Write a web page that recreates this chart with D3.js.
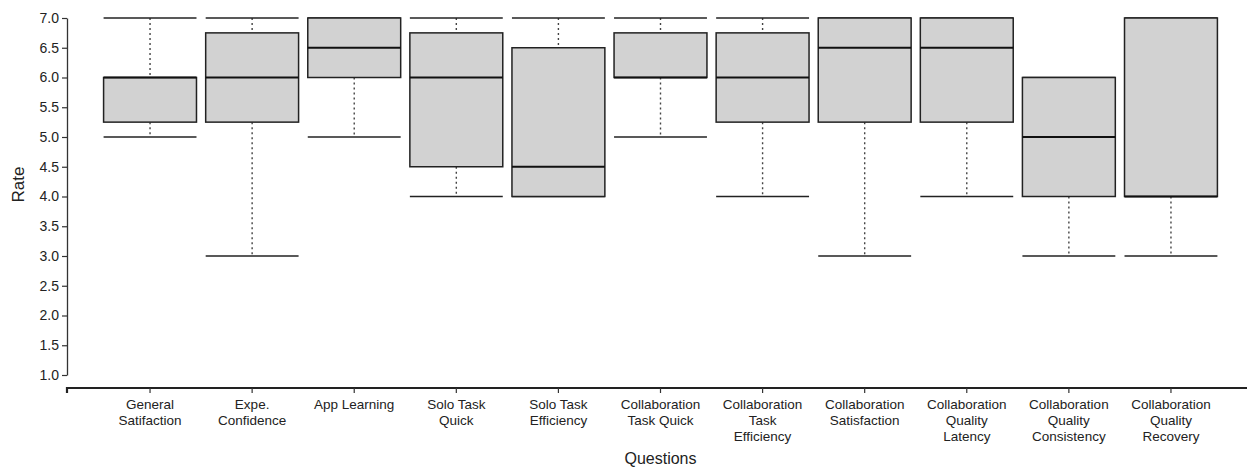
<!DOCTYPE html>
<html>
<head>
<meta charset="utf-8">
<script src="https://cdn.jsdelivr.net/npm/d3@7"></script>
<style>
  body { margin: 0; background: #fff; }
  svg text { font-family: "Liberation Sans", Arial, Helvetica, sans-serif; fill: #222; }
</style>
</head>
<body>
<script>
// questions on the x axis (multi-line labels split on "|")
var questions = [
    'General|Satifaction',
    'Expe.|Confidence',
    'App Learning',
    'Solo Task|Quick',
    'Solo Task|Efficiency',
    'Collaboration|Task Quick',
    'Collaboration|Task|Efficiency',
    'Collaboration|Satisfaction',
    'Collaboration|Quality|Latency',
    'Collaboration|Quality|Consistency',
    'Collaboration|Quality|Recovery'
];
// five number summaries
var whiskerLow  = [5,    3,    5,   4,    4,   5,    4,    3,    4,    3, 3];
var q1          = [5.25, 5.25, 6,   4.5,  4,   6,    5.25, 5.25, 5.25, 4, 4];
var median      = [6,    6,    6.5, 6,    4.5, 6,    6,    6.5,  6.5,  5, 4];
var q3          = [6,    6.75, 7,   6.75, 6.5, 6.75, 6.75, 7,    7,    6, 7];
var whiskerHigh = [7,    7,    7,   7,    7,   7,    7,    7,    7,    6, 7];
var yTicks = d3.range(1, 7.01, 0.5);

var width = 1247, height = 470;
var svg = d3.select('body').append('svg')
    .attr('width', width)
    .attr('height', height);

var data = questions.map(function(q, i){
    return {q: q, lo: whiskerLow[i], q1: q1[i], med: median[i], q3: q3[i], hi: whiskerHigh[i]};
});

var x = d3.scaleBand()
    .domain(questions)
    .range([94.4, 1226.6])
    .padding(0.09);

var y = d3.scaleLinear()
    .domain([1, 7])
    .range([375, 18]);

// y axis
var yAxis = svg.append('g')
    .attr('transform', 'translate(67,0)')
    .call(d3.axisLeft(y).tickValues(yTicks).tickFormat(d3.format('.1f')).tickSize(5).tickSizeOuter(0));
yAxis.select('.domain').attr('stroke', '#333').attr('stroke-width', 1.3);
yAxis.selectAll('.tick line').attr('stroke', '#333').attr('stroke-width', 1.2);
yAxis.selectAll('.tick text')
    .attr('x', -8)
    .style('font-size', '14px')
    .style('font-family', '"Liberation Sans", Arial, sans-serif')
    .attr('fill', '#333');

// x axis
var xAxisY = 388;
var xAxis = svg.append('g')
    .attr('transform', 'translate(0,' + xAxisY + ')')
    .call(d3.axisBottom(x).tickSize(5).tickSizeOuter(0).tickFormat(''));
xAxis.select('.domain')
    .attr('d', 'M67,5V0H' + width)
    .attr('stroke', '#222')
    .attr('stroke-width', 2.2);
xAxis.selectAll('.tick line').attr('stroke', '#333').attr('stroke-width', 1.2);

xAxis.selectAll('.tick').each(function(d){
    var lines = d.split('|');
    var t = d3.select(this).append('text')
        .attr('text-anchor', 'middle')
        .attr('y', 21)
        .style('font-size', '13.5px')
        .attr('fill', '#222');
    lines.forEach(function(line, k){
        t.append('tspan').attr('x', 0).attr('dy', k == 0 ? 0 : 16).text(line);
    });
});

// boxes
var box = svg.selectAll('.box')
    .data(data)
    .enter()
    .append('g')
    .attr('class', 'box')
    .attr('transform', function(d){ return 'translate(' + x(d.q) + ',0)'; });

var bw = x.bandwidth();

// dotted whiskers
box.append('line')
    .attr('x1', bw / 2).attr('x2', bw / 2)
    .attr('y1', function(d){ return y(d.hi); })
    .attr('y2', function(d){ return y(d.q3); })
    .attr('stroke', '#444').attr('stroke-width', 1.4)
    .attr('stroke-dasharray', '2,3');
box.append('line')
    .attr('x1', bw / 2).attr('x2', bw / 2)
    .attr('y1', function(d){ return y(d.q1); })
    .attr('y2', function(d){ return y(d.lo); })
    .attr('stroke', '#444').attr('stroke-width', 1.4)
    .attr('stroke-dasharray', '2,3');

// caps
box.append('line')
    .attr('x1', 0).attr('x2', bw)
    .attr('y1', function(d){ return y(d.hi); })
    .attr('y2', function(d){ return y(d.hi); })
    .attr('stroke', '#222').attr('stroke-width', 1.5);
box.append('line')
    .attr('x1', 0).attr('x2', bw)
    .attr('y1', function(d){ return y(d.lo); })
    .attr('y2', function(d){ return y(d.lo); })
    .attr('stroke', '#222').attr('stroke-width', 1.5);

// box
box.append('rect')
    .attr('x', 0)
    .attr('width', bw)
    .attr('y', function(d){ return y(d.q3); })
    .attr('height', function(d){ return y(d.q1) - y(d.q3); })
    .attr('fill', '#d2d2d2')
    .attr('stroke', '#222')
    .attr('stroke-width', 1.5);

// median
box.append('line')
    .attr('x1', 0).attr('x2', bw)
    .attr('y1', function(d){ return y(d.med); })
    .attr('y2', function(d){ return y(d.med); })
    .attr('stroke', '#111').attr('stroke-width', 2);

// axis titles
svg.append('text')
    .attr('text-anchor', 'middle')
    .attr('transform', 'translate(24,' + y(4.2) + ') rotate(-90)')
    .style('font-size', '17px')
    .text('Rate');

svg.append('text')
    .attr('text-anchor', 'middle')
    .attr('x', x('Collaboration|Task Quick') + bw / 2)
    .attr('y', 464)
    .style('font-size', '16px')
    .text('Questions');
</script>
</body>
</html>
